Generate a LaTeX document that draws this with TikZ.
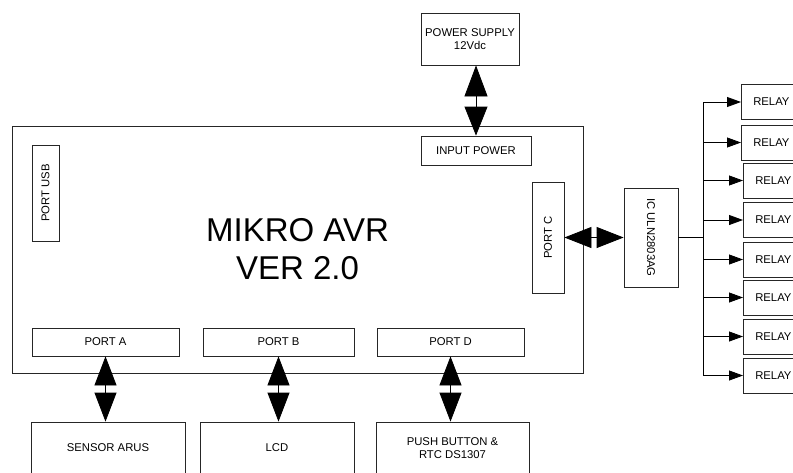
\documentclass[tikz,border=0pt]{standalone}
\usepackage{fontspec}
\setmainfont{Liberation Sans}
\usetikzlibrary{arrows.meta}
\tikzset{
  kotak/.style={draw=black!85, line width=0.8pt, inner sep=0pt, align=center,
    font=\fontsize{11.3}{13}\selectfont},
  panah/.style={line width=0.8pt, {Triangle[length=29pt,width=22pt]}-{Triangle[length=29pt,width=22pt]}},
  panahrelay/.style={line width=0.8pt, -{Triangle[length=14pt,width=10pt]}}
}
\begin{document}
\begin{tikzpicture}[x=1pt,y=-1pt]
\useasboundingbox (0,0) rectangle (793,472);
\clip (0,0) rectangle (793,472);

% papan utama
\node[kotak, minimum width=571, minimum height=247, font=\fontsize{33}{38}\selectfont] (avr) at (297.5,249.5) {MIKRO AVR\\VER 2.0};

\node[kotak, minimum width=98, minimum height=52] (psu) at (470,39) {POWER SUPPLY\\12Vdc};
\node[kotak, minimum width=110, minimum height=29] (inpwr) at (476,150.5) {INPUT POWER};
\node[kotak, minimum width=96, minimum height=27, rotate=90] (usb) at (45.5,193) {PORT USB};
\node[kotak, minimum width=111, minimum height=32, rotate=90] (portc) at (548,237.5) {PORT C};
\node[kotak, minimum width=99, minimum height=54, rotate=-90] (ic) at (651,237.5) {IC ULN2803AG};

% port bawah
\node[kotak, minimum width=147, minimum height=28] (porta) at (105.5,342) {PORT A};
\node[kotak, minimum width=151, minimum height=28] (portb) at (278.5,342) {PORT B};
\node[kotak, minimum width=147, minimum height=28] (portd) at (450.5,342) {PORT D};

\node[kotak, minimum width=154, minimum height=52] (sensor) at (108,448) {SENSOR ARUS};
\node[kotak, minimum width=154, minimum height=52] (lcd) at (277,448) {LCD};
\node[kotak, minimum width=153, minimum height=52] (push) at (452.5,448) {PUSH BUTTON \&\\RTC DS1307};

\draw[panah, {Triangle[length=31pt,width=23pt]}-{Triangle[length=29pt,width=23pt]}] (inpwr.north |- psu.south) -- (inpwr.north);
\draw[panah] (sensor.north -| porta.south) -- (porta.south);
\draw[panah] (lcd.north -| portb.south) -- (portb.south);
\draw[panah] (push.north -| portd.south) -- (portd.south);
% rotate=90/-90: south of portc is east side, south of ic is west side
\draw[panah, {Triangle[length=27pt,width=21pt]}-{Triangle[length=27pt,width=21pt]}] (portc.south) -- (ic.south);

% relay
\foreach \i/\y/\kiri in {1/102/741, 2/142.5/741, 3/180.5/743, 4/220/743,
                         5/259.5/743, 6/297.5/743, 7/336.5/743, 8/375.5/743}
  \node[kotak, anchor=west, minimum width=60, minimum height=35] (r\i) at (\kiri,\y) {RELAY};

\coordinate (bus) at (703,237.5);
\draw[line width=1.6pt] (ic.north) -- (bus);
\draw[line width=0.8pt] (bus |- r1.west) -- (bus |- r8.west);
\foreach \i in {1,...,8}
  \draw[panahrelay] (bus |- r\i.west) -- (r\i.west);
\end{tikzpicture}
\end{document}
